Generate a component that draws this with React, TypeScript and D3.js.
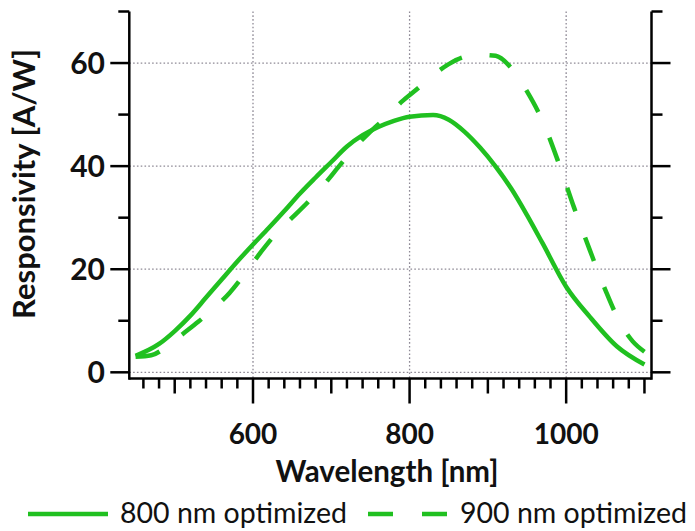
import React from "react";
import * as d3 from "d3";

const seriesNames = ["800 nm optimized", "900 nm optimized"];
const wl800 = [450, 480, 500, 520, 540, 560, 580, 600, 620, 640, 660, 680, 700, 720, 740, 760, 780, 800, 830, 850, 870, 890, 910, 930, 950, 970, 1000, 1030, 1065, 1100];
const resp800 = [3.2, 5.5, 8.0, 11.0, 14.5, 18.0, 21.5, 24.8, 28.0, 31.3, 34.7, 37.8, 40.8, 43.8, 46.0, 47.6, 48.8, 49.6, 49.9, 49.0, 46.7, 43.6, 39.9, 35.6, 30.5, 25.0, 16.6, 10.8, 5.0, 1.5];
const wl900 = [450, 470, 490, 510, 530, 550, 570, 590, 610, 630, 650, 670, 690, 710, 730, 750, 770, 790, 810, 830, 850, 870, 890, 910, 930, 950, 970, 990, 1010, 1030, 1050, 1070, 1085, 1100];
const resp900 = [3.0, 3.3, 5.0, 7.4, 9.8, 12.4, 15.4, 19.2, 23.3, 27.0, 30.0, 33.0, 36.3, 40.0, 43.6, 46.7, 49.5, 52.5, 55.0, 57.6, 59.8, 61.2, 61.6, 61.4, 59.0, 54.5, 48.7, 40.8, 32.0, 23.8, 16.0, 9.3, 6.0, 4.0];
const xLabelTicks = [600, 800, 1000];
const yLabelTicks = [0, 20, 40, 60];
const xTitle = "Wavelength [nm]";
const yTitle = "Responsivity [A/W]";

const W = 695;
const H = 531;
const GREEN = "#20c020";
const FONT = "Lato, 'Open Sans', sans-serif";

export default function App() {
  const x = d3.scaleLinear().domain([442, 1109]).range([129.3, 651.5]);
  const y = d3.scaleLinear().domain([-1.2, 70]).range([378.5, 11.5]);
  const [x0, x1] = x.range();
  const [yb, yt] = y.range();

  const line = d3
    .line<[number, number]>()
    .x((d) => x(d[0]))
    .y((d) => y(d[1]))
    .curve(d3.curveMonotoneX);

  const d800 = line(wl800.map((w, i) => [w, resp800[i]] as [number, number]));
  const d900 = line(wl900.map((w, i) => [w, resp900[i]] as [number, number]));

  const yTicks = d3.range(0, 71, 10);
  const xTicks = d3.range(460, 1101, 20);

  return (
    <svg width={W} height={H} style={{ position: "absolute", left: 0, top: 0, background: "#fff" }}>
      {/* grid */}
      <g stroke="#8f8a96" strokeWidth={1.3} strokeDasharray="1.6,2.2">
        {yLabelTicks.map((v) => (
          <line key={"gy" + v} x1={x0} x2={x1} y1={y(v)} y2={y(v)} />
        ))}
        {xLabelTicks.map((v) => (
          <line key={"gx" + v} x1={x(v)} x2={x(v)} y1={yt} y2={yb} />
        ))}
      </g>

      {/* curves */}
      <path d={d800 || ""} fill="none" stroke={GREEN} strokeWidth={4.5} strokeLinejoin="round" />
      <path d={d900 || ""} fill="none" stroke={GREEN} strokeWidth={4.5} strokeDasharray="25,28" />

      {/* axes */}
      <g stroke="#000" strokeWidth={2.5} fill="none">
        <line x1={x0} x2={x0} y1={yt} y2={yb + 1.2} />
        <line x1={x1} x2={x1} y1={yt} y2={yb + 1.2} />
        <line x1={x0} x2={x1} y1={yb} y2={yb} />
        {yTicks.map((v) => {
          const len = v % 20 === 0 ? 19 : 11;
          return (
            <g key={"yt" + v}>
              <line x1={x0 - len} x2={x0} y1={y(v)} y2={y(v)} />
              <line x1={x1} x2={x1 + len} y1={y(v)} y2={y(v)} />
            </g>
          );
        })}
        {xTicks.map((v) => {
          const len = v % 200 === 0 ? 25 : v % 100 === 0 ? 15 : 10;
          return <line key={"xt" + v} x1={x(v)} x2={x(v)} y1={yb} y2={yb + len} />;
        })}
      </g>

      {/* tick labels */}
      <g fontFamily={FONT} fontWeight={700} fill="#111">
        {yLabelTicks.map((v) => (
          <text key={"yl" + v} x={105} y={y(v)} dy="0.36em" textAnchor="end" fontSize={30}>
            {v}
          </text>
        ))}
        {xLabelTicks.map((v) => (
          <text key={"xl" + v} x={x(v)} y={444} textAnchor="middle" fontSize={28}>
            {v}
          </text>
        ))}
        <text x={387} y={482} textAnchor="middle" fontSize={29.5}>
          {xTitle}
        </text>
        <text transform={`translate(35,184) rotate(-90)`} textAnchor="middle" fontSize={31}>
          {yTitle}
        </text>
      </g>

      {/* legend */}
      <g>
        <line x1={28} x2={108} y1={514} y2={514} stroke={GREEN} strokeWidth={4.5} />
        <text x={120} y={523} fontFamily={FONT} fontSize={28.5} fill="#111">
          {seriesNames[0]}
        </text>
        <line x1={368} x2={447} y1={514} y2={514} stroke={GREEN} strokeWidth={4.5} strokeDasharray="25,29" />
        <text x={460} y={523} fontFamily={FONT} fontSize={28.5} fill="#111">
          {seriesNames[1]}
        </text>
      </g>
    </svg>
  );
}
